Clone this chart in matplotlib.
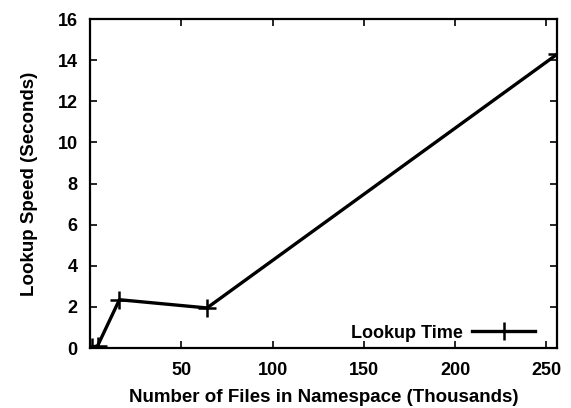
import matplotlib.pyplot as plt

files_k = [1, 4, 16, 64, 256]
lookup_s = [0.05, 0.1, 2.35, 1.95, 14.3]

plt.rcParams['font.family'] = ['Liberation Sans', 'DejaVu Sans']
plt.rcParams['font.weight'] = 'bold'

fig = plt.figure(figsize=(5.71, 4.08), dpi=100)
ax = fig.add_axes([0.158, 0.147, 0.818, 0.806])

ax.plot(files_k, lookup_s, color='black', lw=2.4, marker='+', ms=13, mew=1.8,
        label='Lookup Time')

ax.set_xlim(0, 256)
ax.set_ylim(0, 16)
ax.set_xticks([50, 100, 150, 200, 250])
ax.set_yticks(range(0, 17, 2))
ax.tick_params(direction='in', top=True, right=True, length=5, width=1.2,
               labelsize=13)
ax.tick_params(axis='x', pad=10)
ax.tick_params(axis='y', pad=9)
for s in ax.spines.values():
    s.set_linewidth(1.6)

ax.set_xlabel('Number of Files in Namespace (Thousands)', fontsize=13.5,
              fontweight='bold', labelpad=7)
ax.set_ylabel('Lookup Speed (Seconds)', fontsize=13.5, fontweight='bold',
              labelpad=14)

leg = ax.legend(loc='center right', frameon=False, markerfirst=False,
                fontsize=13, handlelength=3.5, handletextpad=0.5,
                borderaxespad=0, borderpad=0, bbox_to_anchor=(0.953, 0.045))

fig.savefig('out.png', dpi=100)
